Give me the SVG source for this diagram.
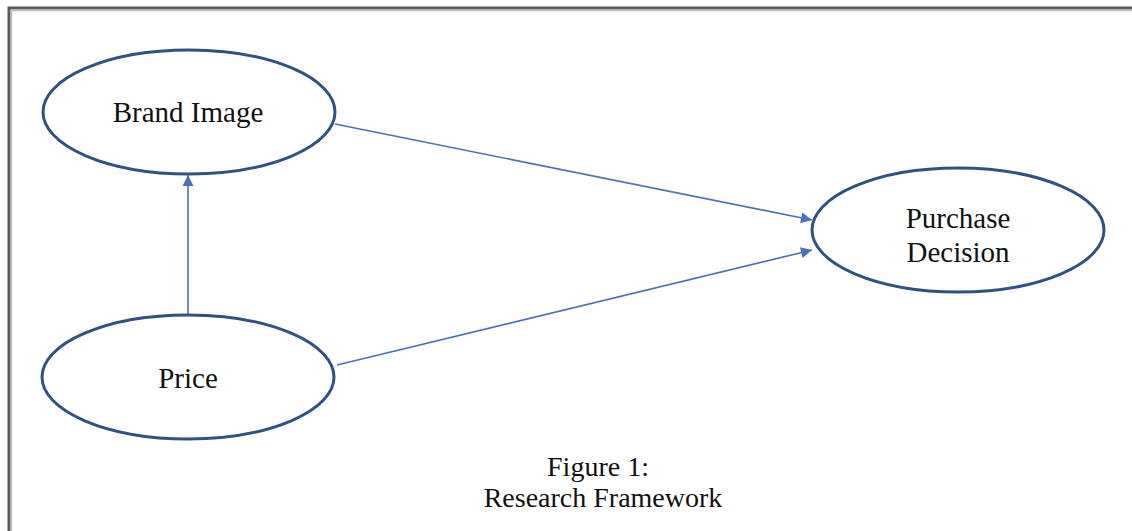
<svg xmlns="http://www.w3.org/2000/svg" width="1132" height="531" viewBox="0 0 1132 531">
<defs>
<style>
.node ellipse{fill:#ffffff;stroke:#2f5283;stroke-width:3}
.node text,.caption text{font-family:"Liberation Serif","Times New Roman",serif;font-size:29px;fill:#111111;text-anchor:middle}
.caption text{font-size:28px}
.edge{stroke:#4a72b8;stroke-width:1.6;fill:none;marker-end:url(#arrow)}
</style>
<marker id="arrow" viewBox="0 0 10 10" refX="10" refY="5" markerWidth="12" markerHeight="11" markerUnits="userSpaceOnUse" orient="auto">
<path d="M0,0 L10,5 L0,10 z" fill="#4a72b8"/>
</marker>
</defs>
<rect width="1132" height="531" fill="#ffffff"/>
<g id="frame">
<path d="M9,531 L9,8 L1132,8" fill="none" stroke="#5a5a5a" stroke-width="3"/>
<path d="M11.5,531 L11.5,10.5 L1132,10.5" fill="none" stroke="#bdbdbd" stroke-width="1.5"/>
</g>
<g id="connectors">
<line class="edge" x1="335" y1="124" x2="812" y2="220"/>
<line class="edge" x1="337" y1="365" x2="812" y2="250"/>
<line class="edge" x1="188" y1="315" x2="188" y2="175"/>
</g>
<g id="brand-image" class="node">
<ellipse cx="189" cy="112" rx="146" ry="62"/>
<text x="188" y="122">Brand Image</text>
</g>
<g id="price" class="node">
<ellipse cx="188" cy="377" rx="146" ry="62"/>
<text x="188" y="388">Price</text>
</g>
<g id="purchase-decision" class="node">
<ellipse cx="958" cy="230" rx="146" ry="62"/>
<text x="958" y="228">Purchase</text>
<text x="958" y="262">Decision</text>
</g>
<g id="caption" class="caption">
<text x="598" y="476">Figure 1:</text>
<text x="603" y="507">Research Framework</text>
</g>
</svg>
